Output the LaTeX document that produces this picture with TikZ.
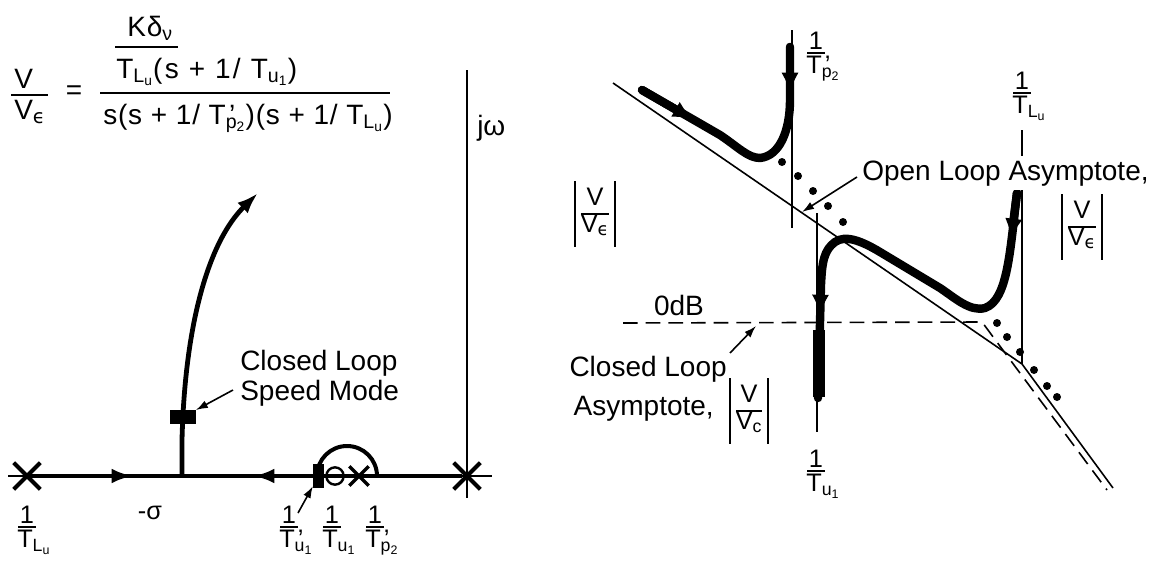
\documentclass[tikz,border=0pt]{standalone}
\usepackage{fontspec}
\setmainfont{Liberation Sans}
\newfontfamily\dvs{DejaVu Sans}
\usetikzlibrary{arrows.meta,shapes.misc}
\newcommand{\sbs}[1]{\textsubscript{#1}}
\newcommand{\eps}{{\dvs ϵ}}
\newcommand{\prm}{\rlap{\smash{\kern0.12em’}}}
\newcommand{\vfr}[2]{\setlength{\arrayrulewidth}{1.1pt}\renewcommand{\arraystretch}{0.95}\begin{tabular}{@{}c@{}}#1\\\hline #2\end{tabular}}
\newcommand{\invlbl}[4]{%
  \node[lbl,anchor=south] (#1o) at (#2,#3-3) {1};
  \draw[line width=1.3pt] (#2-9,#3) -- (#2+9,#3);
  \node[lbl,anchor=north west] (#1t) at (#2-10,#3+3) {T#4};}
\begin{document}
\begin{tikzpicture}[x=0.75pt,y=-0.75pt,
  thinl/.style={line width=1.2pt},
  loc/.style={line width=3.6pt},
  bloc/.style={line width=6.3pt,line cap=round,line join=round},
  larr/.style={-{Latex[length=16pt,width=11pt]}},
  barr/.style={-{Latex[length=16pt,width=13pt]}},
  sarr/.style={-{Latex[length=9pt,width=6pt]}},
  txt/.style={font=\fontsize{21}{22.5}\selectfont,inner sep=0pt},
  lbl/.style={font=\fontsize{19}{20}\selectfont,inner sep=0pt},
  fml/.style={font=\fontsize{21}{22}\selectfont\addfontfeatures{LetterSpace=3},inner sep=0pt},
  fmlw/.style={font=\fontsize{21}{22}\selectfont\addfontfeatures{LetterSpace=8},inner sep=0pt},
  afr/.style={font=\fontsize{19}{20}\selectfont,inner xsep=4pt,inner ysep=5pt},
  xm/.style={draw,cross out,line width=3pt,minimum size=17pt,inner sep=0pt},
]
\fill[white] (0,0) rectangle (1168,568);
\useasboundingbox (0,0) rectangle (1168,568);

% ---------------- formula ----------------
\node[fml,anchor=base west] (fV) at (14,88) {V};
\draw[line width=1.3pt] (11,95) -- (48,95);
\node[fml,anchor=base west] (fVe) at (14,119) {V\sbs{\eps}};
\node[fml] (feq) at (74,93) {=};
\draw[line width=1.3pt] (100,93) -- (390,93);
\node[fml,anchor=base west] (fK) at (127,36) {Kδ\sbs{ν}};
\draw[line width=1.3pt] (115,47) -- (178,47);
\node[fmlw,anchor=base west] (fnum) at (116,78) {T\sbs{L\sbs{u}}(s + 1/ T\sbs{u\sbs{1}})};
\node[fml,anchor=base west] (fden) at (103,124) {s(s + 1/ T\prm\sbs{p\sbs{2}})(s + 1/ T\sbs{L\sbs{u}})};

% ---------------- root locus ----------------
\draw[thinl] (8,476) -- (492,476);
\draw[line width=1.5pt] (467,70) -- (467,498);
\node[txt,anchor=west] (jw) at (477,128) {jω};
\draw[loc] (27,476) -- (462,476);
\draw[loc,larr] (27,476) -- (133,476);
\draw[loc,larr] (313,476) -- (253,476);
\node[xm] (p0) at (27,476) {};
\node[xm] (p1) at (467,476) {};
\draw[loc,larr] (182,476) -- (182,440) .. controls (185,320) and (210,240) .. (258,193);
\node[fill,minimum width=20pt,minimum height=10pt,inner sep=0pt] (cl) at (183,417) {};
\node[txt,align=left,anchor=north west] (cltxt) at (240,350) {Closed Loop\\Speed Mode};
\coordinate (cla) at (233,390);
\draw[thinl,sarr] (cla) -- (cl);
% loop near zero
\draw[line width=3pt] (317,476) arc[start angle=180,end angle=360,radius=30];
\node[fill,minimum width=8pt,minimum height=18pt,inner sep=0pt] (pz) at (318.5,476) {};
\node[draw,circle,line width=1.8pt,minimum size=13pt,inner sep=0pt] (zu) at (335,476) {};
\fill (335,476) circle[radius=2];
\node[draw,cross out,line width=2.5pt,minimum size=12pt,inner sep=0pt] (pp) at (359,476) {};
% labels
\invlbl{a}{27}{527}{\sbs{L\sbs{u}}}
\node[lbl] (sig) at (150,513) {-σ};
\invlbl{b}{289}{527}{\prm\sbs{u\sbs{1}}}
\invlbl{c}{332}{527}{\sbs{u\sbs{1}}}
\invlbl{d}{375}{527}{\prm\sbs{p\sbs{2}}}
\coordinate (pza) at (298,513);
\draw[thinl,sarr] (pza) -- (pz);

% ---------------- Bode plot ----------------
\draw[thinl] (613,83) -- (1022,364) -- (1113,488);
\draw[thinl,dash pattern=on 11pt off 6pt] (623,323) -- (982,322) -- (1107,490);
\draw[thinl] (792,30) -- (792,228);
\draw[thinl] (817,213) -- (817,432);
\draw[thinl] (1022,130) -- (1022,364);
\invlbl{e}{816}{53}{\prm\sbs{p\sbs{2}}}
\invlbl{f}{1022}{93}{\sbs{L\sbs{u}}}
\invlbl{g}{816}{471}{\sbs{u\sbs{1}}}
% dots
\foreach \p in {(782,162),(798,176),(813,191),(828,206),(843,222),(997,323),(1007,337),(1020,352),(1034,370),(1047,386),(1057,397)}
  \fill \p circle[radius=4];
% thick curves
\draw[bloc] (642,90) -- (720,135) .. controls (738,147) and (748,158) .. (760,158) .. controls (780,156) and (790,130) .. (790,100) -- (790,47);
\draw[bloc,barr] (642,90) -- (694,120);
\draw[bloc,barr] (790,47) -- (790,94);
\draw[bloc] (1017,193) .. controls (1010,250) and (1008,300) .. (985,308) .. controls (970,312) and (955,298) .. (940,288) -- (880,252) .. controls (860,240) and (845,235) .. (835,242) .. controls (824,250) and (822,262) .. (821,285) -- (818,398);
\draw[line width=8.5pt] (819,330) -- (819,397);
\draw[bloc,barr] (1017,193) -- (1011,240);
\draw[bloc,barr] (821,270) -- (820,316);
% texts
\node[txt,fill=white,inner ysep=3pt,anchor=base west] (olt) at (862,180) {Open Loop Asymptote,};
\coordinate (ola) at (857,177);
\coordinate (olb) at (802,212);
\draw[thinl,sarr] (ola) -- (olb);
\node[afr] (abs1) at (1082,227) {\vfr{V}{V\sbs{\eps}}};
\draw[line width=1.4pt] (abs1.north west) -- (abs1.south west) (abs1.north east) -- (abs1.south east);
\node[afr] (abs2) at (595,214) {\vfr{V}{V\sbs{\eps}}};
\draw[line width=1.4pt] (abs2.north west) -- (abs2.south west) (abs2.north east) -- (abs2.south east);
\node[txt,anchor=base] (odb) at (679,315) {0dB};
\node[txt,anchor=base east] (clt1) at (727,376) {Closed Loop};
\node[txt,anchor=base east] (clt2) at (714,415) {Asymptote,};
\node[afr] (abs3) at (749,411) {\vfr{V}{V\sbs{c}}};
\draw[line width=1.4pt] (abs3.north west) -- (abs3.south west) (abs3.north east) -- (abs3.south east);
\coordinate (cda) at (730,353);
\coordinate (cdb) at (756,326);
\draw[thinl,sarr] (cda) -- (cdb);
\end{tikzpicture}
\end{document}
